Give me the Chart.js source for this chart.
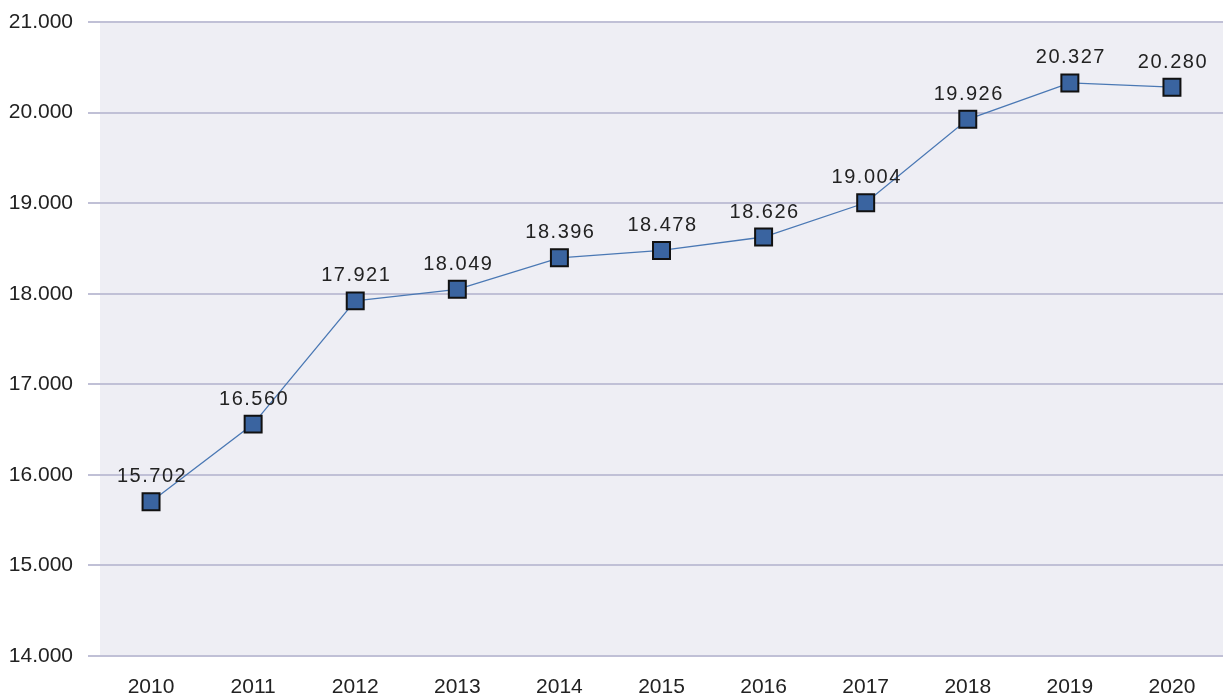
<!DOCTYPE html>
<html>
<head>
    <title>Wykres</title>
    <script src="https://cdn.jsdelivr.net/npm/chart.js"></script>
    <style>
        html, body { margin: 0; padding: 0; background: #ffffff; }
        #wrap { width: 1223px; height: 697px; }
    </style>
</head>
<body>
    <div id="wrap"><canvas id="lineChart"></canvas></div>
    <script>
        const years = ['2010', '2011', '2012', '2013', '2014', '2015', '2016', '2017', '2018', '2019', '2020'];
        const values = [15.702, 16.560, 17.921, 18.049, 18.396, 18.478, 18.626, 19.004, 19.926, 20.327, 20.280];

        const fmt = v => v.toFixed(3);
        const fontFam = '"Liberation Sans", Arial, sans-serif';

        // tło obszaru wykresu i etykiety wartości
        const plotBg = {
            id: 'plotBg',
            beforeDraw(chart) {
                const a = chart.chartArea;
                const ctx = chart.ctx;
                ctx.save();
                ctx.fillStyle = '#eeeef4';
                ctx.fillRect(a.left, a.top, a.right - a.left, a.bottom - a.top);
                ctx.restore();
            },
            afterDatasetsDraw(chart) {
                const ctx = chart.ctx;
                const meta = chart.getDatasetMeta(0);
                ctx.save();
                ctx.font = '20px ' + fontFam;
                ctx.letterSpacing = '1.5px';
                ctx.fillStyle = '#222222';
                ctx.textAlign = 'center';
                ctx.textBaseline = 'middle';
                meta.data.forEach((pt, i) => {
                    ctx.fillText(fmt(values[i]), pt.x + 1, pt.y - 25);
                });
                ctx.restore();
            }
        };

        new Chart(document.getElementById('lineChart'), {
            type: 'line',
            data: {
                labels: years,
                datasets: [{
                    data: values,
                    borderColor: '#4a78b4',
                    borderWidth: 1.3,
                    pointStyle: 'rect',
                    pointRadius: 12,
                    pointHoverRadius: 12,
                    pointBackgroundColor: '#3a64a0',
                    pointBorderColor: '#111111',
                    pointBorderWidth: 2,
                    tension: 0
                }]
            },
            options: {
                responsive: true,
                maintainAspectRatio: false,
                animation: false,
                layout: { autoPadding: false, padding: { top: 22, right: 0, left: 0, bottom: 0 } },
                plugins: {
                    legend: { display: false },
                    tooltip: { enabled: false }
                },
                scales: {
                    x: {
                        offset: true,
                        grid: { display: false, drawTicks: false },
                        border: { display: false },
                        ticks: {
                            color: '#222222',
                            padding: 19,
                            font: { size: 21, family: fontFam }
                        },
                        afterFit: scale => {
                            scale.height = 41;
                            scale.paddingLeft = 0;
                            scale.paddingRight = 0;
                        }
                    },
                    y: {
                        min: 14,
                        max: 21,
                        border: { display: false },
                        grid: {
                            color: '#c0c0d6',
                            lineWidth: 2,
                            tickLength: 12
                        },
                        ticks: {
                            stepSize: 1,
                            color: '#222222',
                            padding: 15,
                            font: { size: 21, family: fontFam },
                            callback: v => fmt(v)
                        },
                        afterFit: scale => {
                            scale.width = 100;
                            scale.paddingTop = 0;
                            scale.paddingBottom = 0;
                        }
                    }
                }
            },
            plugins: [plotBg]
        });
    </script>
</body>
</html>
